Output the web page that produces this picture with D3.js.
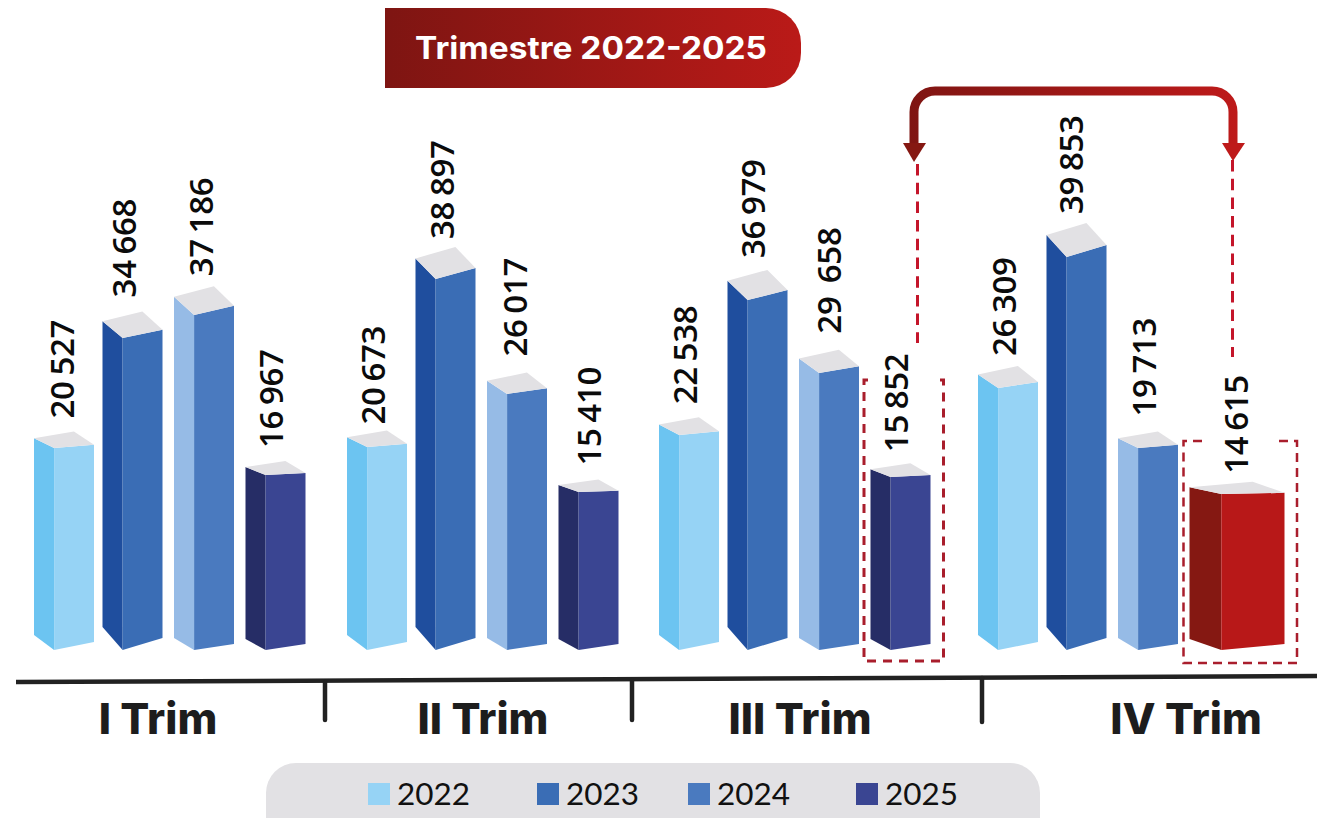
<!DOCTYPE html>
<html><head><meta charset="utf-8">
<script src="https://cdn.jsdelivr.net/npm/d3@7/dist/d3.min.js"></script>
<style>html,body{margin:0;padding:0;background:#fff;overflow:hidden}svg{display:block}</style>
</head><body><div id="chart"></div>
<script>
const quarters = ["I Trim","II Trim","III Trim","IV Trim"];
const years = ["2022","2023","2024","2025"];
const values2022 = [20527,20673,22538,26309];
const values2023 = [34668,38897,36979,39853];
const values2024 = [37186,26017,29658,19713];
const values2025 = [16967,15410,15852,14615];
const valueLabels = {"2022":["20 527","20 673","22 538","26 309"],"2023":["34 668","38 897","36 979","39 853"],"2024":["37 186","26 017","29 658","19 713"],"2025":["16 967","15 410","15 852","14 615"]};
const title = "Trimestre 2022-2025";
const frontColors = ["#96D3F5","#3A6DB5","#4A7ABF","#3A4592"];
const sideColors = ["#6CC4F1","#1F4E9E","#96BBE6","#262D66"];
const legendColors = ["#96D3F5","#3A6DB5","#4A7ABF","#3A4592"];

const W=1317,H=818,base=650;
const series=[values2022,values2023,values2024,values2025];
const svg=d3.select("#chart").append("svg").attr("width",W).attr("height",H);
const defs=svg.append("defs");
function grad(id,a,b,x1,x2){const g=defs.append("linearGradient").attr("id",id).attr("gradientUnits","userSpaceOnUse").attr("x1",x1).attr("x2",x2).attr("y1",0).attr("y2",0);
 g.append("stop").attr("offset",0).attr("stop-color",a);g.append("stop").attr("offset",1).attr("stop-color",b);}
grad("hdr","#7E1512","#BA1A18",385,801);
grad("arr","#7E1512","#BE1A1A",905,1240);

// header
svg.append("path").attr("d","M385,8H766A35,35 0 0 1 801,43V53A35,35 0 0 1 766,88H385Z").attr("fill","url(#hdr)");
svg.append("text").attr("x",591).attr("y",59).attr("text-anchor","middle").attr("fill","#fff")
 .style("font","700 31px Inter, 'Noto Sans'").attr("textLength",352).attr("lengthAdjust","spacingAndGlyphs").text(title);

// scales: the picture's bars are not strictly proportional, so each year has its own height scale
const groupStart=d3.scaleOrdinal(quarters,[34,347,659,978]);
const seriesOffset=d3.scaleOrdinal(years,[0,68.5,140,211.5]);
const heightScales=[
 d3.scaleLinear([20527,22538,26309],[202,215,262]),
 d3.scaleLinear([34668,36979,38897,39853],[312,350,371,393]),
 d3.scaleLinear([19713,26017,29658,37186],[202,256,277,335]),
 d3.scaleLinear([14615,15410,15852,16967],[156,158,173,175])];
const leftDrop=d3.scaleLinear([175,393],[8,22]);
const rightDrop=d3.scaleLinear([175,393],[2,12]);
const backDrop=d3.scaleLinear([175,393],[14,34]);
const baseLeft=d3.scaleOrdinal(years,[15,23,12,11]);
const baseRight=d3.scaleOrdinal(years,[8,12,6,6]);
// label placement relative to each bar
const labelCentre=[[28,22,27,26],[26,27,28,31],[26,26,30,26],[26,25,26,47]];
const labelGap=[[13,14,10,13],[6,8,16,14],[13,12,16,11],[10,9,15,8]];

const pts=a=>a.map(p=>p.join(",")).join(" ");
const bars=svg.append("g");
quarters.forEach((q,qi)=>{
 years.forEach((yr,si)=>{
  const v=series[si][qi], isRed=(qi===3&&si===3);
  const bw=isRed?95:60;
  const x0=groupStart(q)+seriesOffset(yr), x1=x0+bw, xs=x0+bw*0.335;
  const h=heightScales[si](v), yf=base-h;
  const yl=yf-leftDrop(h), yr2=yf-rightDrop(h), yb=yf-backDrop(h), xb=x0+(x1-xs);
  const g=bars.append("g").datum({q,yr,v});
  g.append("polygon").attr("points",pts([[x0,yl],[xs,yf],[xs,base],[x0,base-baseLeft(yr)]])).attr("fill",isRed?"#851812":sideColors[si]);
  g.append("polygon").attr("points",pts([[xs,yf],[x1,yr2],[x1,base-baseRight(yr)],[xs,base]])).attr("fill",isRed?"#B81818":frontColors[si]);
  g.append("polygon").attr("points",pts([[x0,yl],[xb,yb],[x1,yr2],[xs,yf]])).attr("fill","#E2E1E4");
  const lx=x0+labelCentre[qi][si], ly=yb-labelGap[qi][si], txt=valueLabels[yr][qi];
  g.append("text").attr("transform",`translate(${lx},${ly}) rotate(-90)`).attr("dy","0.36em").attr("fill","#0b0b0b")
   .style("font","600 33px 'Open Sans'").style("letter-spacing","-0.3px").style("word-spacing",txt==="29 658"?"5px":"-2.5px").text(txt);
 });
});

// dashed guides
const dashRed="#C4152A", dashDark="#A91E2C";
[[917.5,164,343],[1232.5,160,357]].forEach(d=>svg.append("line").attr("x1",d[0]).attr("x2",d[0]).attr("y1",d[1]).attr("y2",d[2]).attr("stroke",dashRed).attr("stroke-width",3).attr("stroke-dasharray","11.5 7.2"));
svg.append("path").attr("d","M868,380H864V661H943.5V380H939").attr("fill","none").attr("stroke",dashDark).attr("stroke-width",3).attr("stroke-dasharray","9 7");
svg.append("path").attr("d","M1202,441H1183.5V663H1297V441H1279").attr("fill","none").attr("stroke",dashDark).attr("stroke-width",2.5).attr("stroke-dasharray","9 6");

// arrow
svg.append("path").attr("d","M914,146V112A21,21 0 0 1 935,91H1212A21,21 0 0 1 1233,112V146").attr("fill","none").attr("stroke","url(#arr)").attr("stroke-width",9);
svg.append("polygon").attr("points","903,143 926,143 914,162").attr("fill","#851812");
svg.append("polygon").attr("points","1222,143 1245,143 1233,161").attr("fill","#BE1A1A");

// axis
svg.append("line").attr("x1",16).attr("y1",682).attr("x2",1317).attr("y2",676).attr("stroke","#222").attr("stroke-width",4.5);
[[325,682,720],[632,680,720],[982,678,722]].forEach(d=>svg.append("line").attr("x1",d[0]).attr("x2",d[0]).attr("y1",d[1]).attr("y2",d[2]).attr("stroke","#222").attr("stroke-width",4.5).attr("stroke-linecap","round"));
const qLabelX=d3.scaleOrdinal(quarters,[158,483,800,1186]);
svg.selectAll("text.q").data(quarters).join("text").attr("class","q").attr("x",d=>qLabelX(d)).attr("y",734).attr("text-anchor","middle")
 .attr("fill","#1d1d1d").style("font","800 43px Inter, 'Noto Sans'").text(d=>d);

// legend
svg.append("rect").attr("x",266).attr("y",763).attr("width",774).attr("height",90).attr("rx",30).attr("fill","#E2E1E4");
const legX=d3.scaleOrdinal(years,[368,537,688,856]);
years.forEach((y,i)=>{
 svg.append("rect").attr("x",legX(y)).attr("y",783).attr("width",22).attr("height",22).attr("fill",legendColors[i]);
 svg.append("text").attr("x",legX(y)+29).attr("y",805).attr("fill","#111").style("font","400 30px Lato").attr("textLength",73).attr("lengthAdjust","spacingAndGlyphs").text(y);
});
</script></body></html>
